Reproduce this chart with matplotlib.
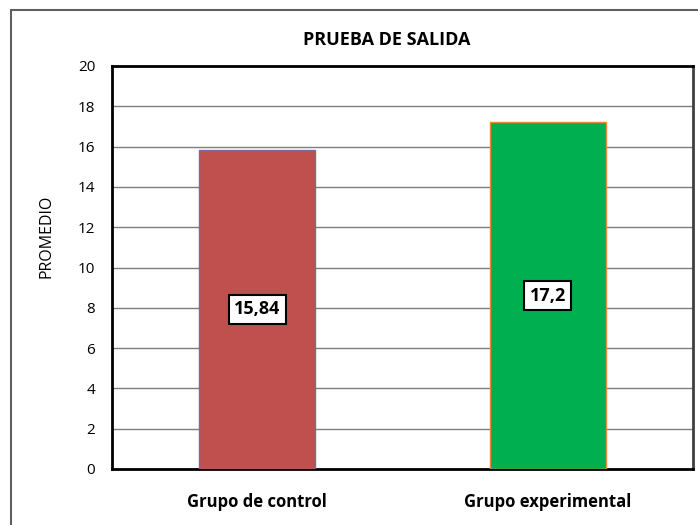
import matplotlib.pyplot as plt
from matplotlib.patches import Rectangle

grupos = ['Grupo de control', 'Grupo experimental']
promedios = [15.84, 17.2]
etiquetas = ['15,84', '17,2']
colores = ['#c0504d', '#00b050']
bordes = ['#7a6a9a', '#e8883a']

plt.rcParams['font.family'] = ['Open Sans', 'DejaVu Sans']

fig = plt.figure(figsize=(6.98, 5.25), dpi=100)
ax = fig.add_axes([112/698, 1 - 469/525, 581/698, 403/525])

x = range(len(grupos))
ax.bar(x, promedios, width=0.4, color=colores, edgecolor=bordes, linewidth=1, zorder=3)

for i, v in enumerate(promedios):
    ax.text(i, v / 2, etiquetas[i], ha='center', va='center', fontsize=13, fontweight='bold',
            bbox=dict(boxstyle='square,pad=0.3', fc='white', ec='black', lw=1.5), zorder=4)

ax.set_xlim(-0.5, 1.5)
ax.set_ylim(0, 20)
ax.set_yticks(range(0, 21, 2))
ax.set_xticks(list(x))
ax.set_xticklabels(grupos, fontsize=12, fontweight='bold')
ax.tick_params(axis='x', length=0, pad=17)
ax.tick_params(axis='y', length=0, pad=12, labelsize=11)
ax.grid(axis='y', color='#7f7f7f', linewidth=1, zorder=0)
for s in ['left', 'bottom', 'top']:
    ax.spines[s].set_linewidth(2)
    ax.spines[s].set_color('black')
ax.spines['right'].set_linewidth(2)
ax.spines['right'].set_color('#404040')

fig.text(387/698, 1 - 40/525, 'PRUEBA DE SALIDA', ha='center', va='center', fontsize=13, fontweight='bold')
fig.text(47/698, 1 - 236/525, 'PROMEDIO', ha='center', va='center', rotation=90, fontsize=11.5)

# marco del grafico
fig.patches.append(Rectangle((11/698, -0.05), 1.1, 1 - 10/525 + 0.05, transform=fig.transFigure,
                             fill=False, ec='#606060', lw=1.5, clip_on=False))

fig.savefig('out.png', dpi=100)
